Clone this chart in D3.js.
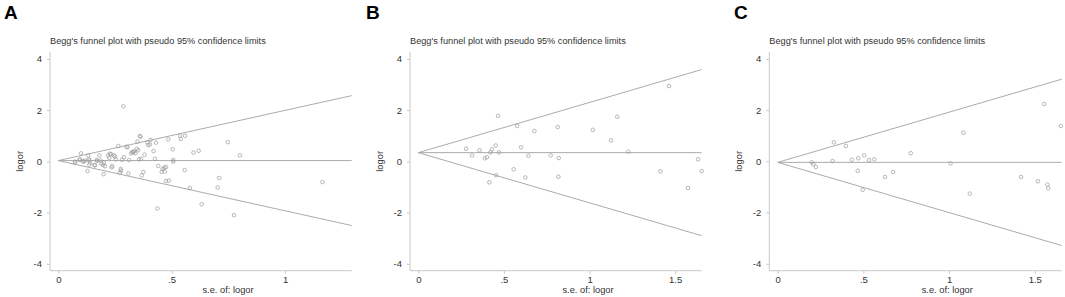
<!DOCTYPE html>
<html>
<head>
<meta charset="utf-8">
<script src="https://cdn.jsdelivr.net/npm/d3@7"></script>
<style>
  body { margin: 0; background: #fff; }
  svg { display: block; font-family: "Liberation Sans", Arial, sans-serif; }
</style>
</head>
<body>
<svg id="chart" width="1065" height="297"></svg>
<script>
// study points [se, logor]
const studiesA = [
  [0.074,-0.06],[0.074,-0.01],[0.093,0.05],[0.096,0.08],[0.100,0.31],[0.107,0.01],[0.112,-0.01],[0.118,0.03],
  [0.129,-0.38],[0.132,0.23],[0.135,0.08],[0.137,0.03],[0.137,-0.13],[0.140,-0.05],[0.159,-0.14],[0.162,-0.16],
  [0.169,0.05],[0.172,0.02],[0.181,0.23],[0.186,0.03],[0.190,-0.09],[0.198,-0.14],[0.200,-0.50],[0.201,-0.05],
  [0.206,-0.19],[0.220,0.23],[0.225,0.14],[0.228,0.30],[0.232,0.28],[0.235,-0.24],[0.238,-0.19],[0.245,0.23],
  [0.250,0.19],[0.254,0.08],[0.265,0.60],[0.272,-0.44],[0.275,-0.30],[0.277,-0.36],[0.281,0.06],[0.287,2.15],
  [0.290,0.16],[0.301,0.57],[0.305,0.55],[0.309,-0.47],[0.312,0.05],[0.321,0.31],[0.326,0.36],[0.330,0.35],
  [0.334,0.39],[0.340,0.32],[0.346,0.49],[0.349,0.77],[0.352,0.43],[0.356,0.08],[0.360,0.99],[0.363,0.96],
  [0.365,0.10],[0.368,-0.55],[0.375,-0.42],[0.380,0.26],[0.393,0.74],[0.397,0.63],[0.404,0.66],[0.407,0.84],
  [0.420,0.40],[0.426,0.10],[0.431,0.73],[0.437,-1.84],[0.441,-0.18],[0.456,-0.41],[0.460,-0.30],[0.467,-0.25],
  [0.470,-0.40],[0.475,-0.22],[0.475,-0.77],[0.485,0.86],[0.488,-0.75],[0.505,0.47],[0.507,0.05],[0.507,-0.01],
  [0.537,1.00],[0.540,0.87],[0.559,1.00],[0.557,-0.34],[0.580,-1.04],[0.596,0.34],[0.619,0.41],[0.632,-1.68],
  [0.703,-1.02],[0.710,-0.65],[0.747,0.75],[0.775,-2.10],[0.801,0.23],[1.165,-0.81]
];
const studiesB = [
  [0.279,0.49],[0.314,0.23],[0.358,0.43],[0.388,0.12],[0.401,0.16],[0.421,0.35],[0.430,0.47],[0.452,0.62],
  [0.471,0.35],[0.466,1.78],[0.415,-0.82],[0.454,-0.54],[0.557,-0.31],[0.577,1.38],[0.600,0.55],[0.625,-0.63],
  [0.643,0.22],[0.678,1.18],[0.773,0.23],[0.814,1.34],[0.820,0.13],[0.818,-0.60],[1.019,1.23],[1.126,0.82],
  [1.162,1.74],[1.227,0.38],[1.414,-0.39],[1.464,2.94],[1.575,-1.04],[1.634,0.08],[1.655,-0.38]
];
const studiesC = [
  [0.198,-0.04],[0.208,-0.12],[0.222,-0.22],[0.320,0.01],[0.328,0.74],[0.398,0.60],[0.432,0.06],[0.467,-0.37],
  [0.470,0.12],[0.496,-1.11],[0.505,0.23],[0.533,0.05],[0.564,0.08],[0.626,-0.61],[0.673,-0.42],[0.776,0.32],
  [1.008,-0.08],[1.084,1.12],[1.121,-1.26],[1.420,-0.61],[1.518,-0.78],[1.556,2.24],[1.574,-0.91],[1.578,-1.05],
  [1.652,1.38]
];

// pooled log OR and x-axis extent per panel
const pooled = [0.03, 0.34, -0.04];
const seMax = [1.294, 1.655, 1.657];
const xTicksA = [0, 0.5, 1];
const xTicksBC = [0, 0.5, 1, 1.5];
const yTicks = [4, 2, 0, -2, -4];
const letters = ["A", "B", "C"];
const title = "Begg's funnel plot with pseudo 95% confidence limits";

const svg = d3.select("#chart");
const gray = "#ababab";

const panels = [
  { data: studiesA, left: 50,    zeroX: 58.3,  right: 351.7,  ticks: xTicksA,  letterX: 4 },
  { data: studiesB, left: 410,   zeroX: 418.3, right: 701.7,  ticks: xTicksBC, letterX: 366 },
  { data: studiesC, left: 769.3, zeroX: 777.7, right: 1061.7, ticks: xTicksBC, letterX: 734 }
];
const plotTop = 52, plotBottom = 270.7;

const fmt = d => d === 0 ? "0" : String(d).replace("0.", ".");

panels.forEach((p, i) => {
  const x = d3.scaleLinear()
    .domain([(p.left - p.zeroX) / (p.right - p.zeroX) * seMax[i], seMax[i]])
    .range([p.left, p.right]);
  const y = d3.scaleLinear().domain([-4.27, 4.27]).range([plotBottom, plotTop]);

  const g = svg.append("g");

  // panel letter
  g.append("text")
    .attr("x", p.letterX).attr("y", 18.5)
    .attr("font-size", 19).attr("font-weight", "bold")
    .attr("fill", "#000")
    .text(letters[i]);

  g.append("text")
    .attr("x", p.left).attr("y", 44)
    .attr("font-size", 9.2).attr("fill", "#333")
    .text(title);

  // axes
  const yAxis = g.append("g")
    .attr("transform", `translate(${p.left},0)`)
    .call(d3.axisLeft(y).tickValues(yTicks).tickSize(3).tickPadding(5)
      .tickFormat(d => String(d)));
  const xAxis = g.append("g")
    .attr("transform", `translate(0,${plotBottom})`)
    .call(d3.axisBottom(x).tickValues(p.ticks).tickSize(3).tickPadding(3).tickFormat(fmt));
  [yAxis, xAxis].forEach(a => {
    a.select(".domain").remove();
    a.selectAll(".tick line").attr("stroke", "#c8c8c8");
    a.selectAll(".tick text").attr("font-size", 9.5).attr("fill", "#333")
      .attr("font-family", "'Liberation Sans', Arial, sans-serif");
  });
  g.append("line").attr("x1", p.left).attr("x2", p.left).attr("y1", plotTop).attr("y2", plotBottom)
    .attr("stroke", "#c8c8c8");
  g.append("line").attr("x1", p.left).attr("x2", p.right).attr("y1", plotBottom).attr("y2", plotBottom)
    .attr("stroke", "#c8c8c8");

  g.append("text")
    .attr("transform", `translate(${p.left - 27},${y(0)}) rotate(-90)`)
    .attr("text-anchor", "middle").attr("font-size", 9.3).attr("fill", "#333")
    .text("logor");
  g.append("text")
    .attr("x", p.left + 178).attr("y", 292.5)
    .attr("text-anchor", "middle").attr("font-size", 9.3).attr("fill", "#333")
    .text("s.e. of: logor");

  // funnel: pooled estimate and pseudo 95% limits
  const b = pooled[i], s = seMax[i];
  const lines = [
    [[0, b], [s, b]],
    [[0, b], [s, b + 1.96 * s]],
    [[0, b], [s, b - 1.96 * s]]
  ];
  g.selectAll(".funnel").data(lines).join("line")
    .attr("class", "funnel")
    .attr("x1", d => x(d[0][0])).attr("y1", d => y(d[0][1]))
    .attr("x2", d => x(d[1][0])).attr("y2", d => y(d[1][1]))
    .attr("stroke", gray).attr("stroke-width", 1);

  g.selectAll(".study").data(p.data).join("circle")
    .attr("class", "study")
    .attr("cx", d => x(d[0])).attr("cy", d => y(d[1]))
    .attr("r", 1.8)
    .attr("fill", "none").attr("stroke", "#999").attr("stroke-width", 0.7);
});
</script>
</body>
</html>
